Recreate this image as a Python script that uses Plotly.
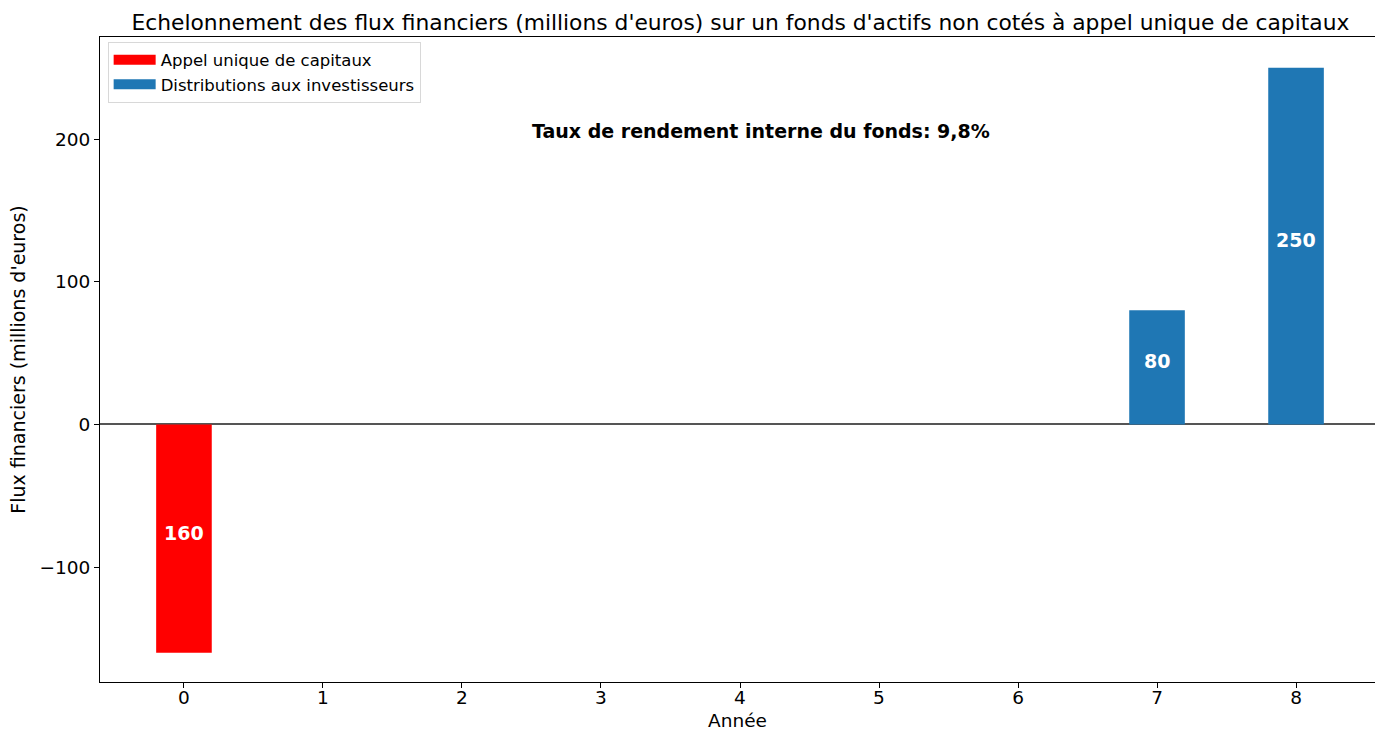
import plotly.graph_objects as go

years = [0, 1, 2, 3, 4, 5, 6, 7, 8]
appel = [-160, 0, 0, 0, 0, 0, 0, 0, 0]
distributions = [0, 0, 0, 0, 0, 0, 0, 80, 250]
tri_text = "Taux de rendement interne du fonds: 9,8%"

font = "DejaVu Sans"
RED = "#ff0000"
BLUE = "#1f77b4"

fig = go.Figure()
fig.add_trace(go.Bar(
    x=years, y=appel, width=0.4, name="Appel unique de capitaux",
    marker=dict(color=RED, line=dict(width=0)), showlegend=False,
))
fig.add_trace(go.Bar(
    x=years, y=distributions, width=0.4, name="Distributions aux investisseurs",
    marker=dict(color=BLUE, line=dict(width=0)), showlegend=False,
))
# legend swatches (wide rectangles like the reference)
for nm, col in [("Appel unique de capitaux", RED), ("Distributions aux investisseurs", BLUE)]:
    fig.add_trace(go.Scatter(
        x=[None], y=[None], mode="lines", name=nm,
        line=dict(color=col, width=12), showlegend=True, hoverinfo="skip",
    ))

# bar value labels, centred in each bar
for series in (appel, distributions):
    for xv, v in zip(years, series):
        if v != 0:
            fig.add_annotation(
                x=xv, y=v / 2, xref="x", yref="y", text="<b>%d</b>" % abs(v),
                showarrow=False, yshift=6,
                font=dict(size=19, family=font, color="white"),
            )

fig.add_annotation(
    x=4.15, y=206, xref="x", yref="y", text="<b>" + tri_text + "</b>",
    showarrow=False, font=dict(size=19, family=font, color="black"),
)

fig.update_layout(
    width=1375, height=731,
    margin=dict(l=100, r=0, t=37, b=49),
    paper_bgcolor="white", plot_bgcolor="white",
    barmode="overlay",
    font=dict(family=font, color="black", size=18),
    title=dict(
        text="Echelonnement des flux financiers (millions d'euros) sur un fonds d'actifs non cotés à appel unique de capitaux",
        x=0.5385, xanchor="center", y=0.969, yanchor="middle",
        font=dict(size=21.8, family=font, color="black"),
    ),
    legend=dict(
        x=0.006, y=0.993, xanchor="left", yanchor="top",
        bgcolor="rgba(255,255,255,0.8)", bordercolor="#d8d8d8", borderwidth=1,
        font=dict(size=16.5, family=font), itemwidth=42, tracegroupgap=0,
    ),
    showlegend=True,
    xaxis=dict(
        range=[-0.604, 8.568], tickmode="array", tickvals=years,
        ticktext=[str(y) for y in years],
        showgrid=False, zeroline=False,
        showline=True, linecolor="black", linewidth=1, mirror=True,
        ticks="outside", ticklen=5, tickcolor="black", ticklabelstandoff=-6,
        title=dict(text="Année", font=dict(size=18.5), standoff=8),
        tickfont=dict(size=18.5),
    ),
    yaxis=dict(
        range=[-180.5, 271.6], tickmode="array", tickvals=[-100, 0, 100, 200],
        ticktext=["\u2212100", "0", "100", "200"],
        showgrid=False, zeroline=True, zerolinecolor="#555555", zerolinewidth=1.5,
        showline=True, linecolor="black", linewidth=1, mirror=False,
        ticks="outside", ticklen=5, tickcolor="black",
        title=dict(text="Flux financiers (millions d'euros)", font=dict(size=19), standoff=8),
        tickfont=dict(size=18.5),
    ),
)

fig.write_html(
    "out.html",
    config={"displayModeBar": False},
    post_script="document.body.style.margin='0';document.body.style.padding='0';",
)
